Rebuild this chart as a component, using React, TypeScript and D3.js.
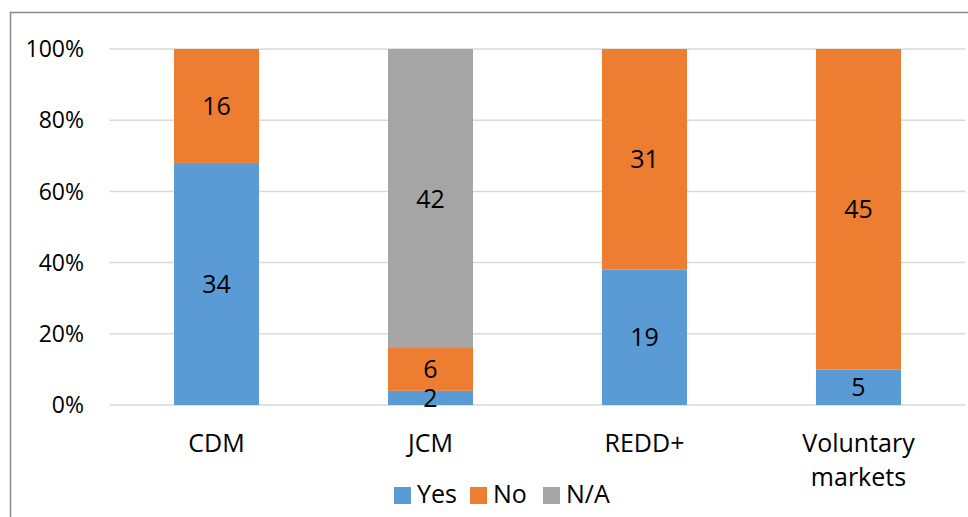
import React, { useEffect, useRef } from 'react';
import * as d3 from 'd3';

const categories = ['CDM', 'JCM', 'REDD+', 'Voluntary markets'];
const seriesNames = ['Yes', 'No', 'N/A'];
const yesValues = [34, 2, 19, 5];
const noValues = [16, 6, 31, 45];
const naValues = [0, 42, 0, 0];
const yTicks = [0, 0.2, 0.4, 0.6, 0.8, 1];
const colors = ['#5B9BD5', '#ED7D31', '#A5A5A5'];

const FONT = '"Open Sans", "Noto Sans", sans-serif';

export default function App() {
  const svgRef = useRef<SVGSVGElement>(null);

  useEffect(() => {
    const svg = d3.select(svgRef.current);
    svg.selectAll('*').remove();

    const width = 968;
    const height = 517;
    const margin = { top: 49, right: 2.5, bottom: 112, left: 109.5 };

    // chart border
    svg.append('rect')
      .attr('x', 10.5).attr('y', 12.5)
      .attr('width', 1000).attr('height', 600)
      .attr('fill', 'none').attr('stroke', '#8c8c8c').attr('stroke-width', 1.5);

    const rows = categories.map((c, i) => ({
      cat: c,
      Yes: yesValues[i],
      No: noValues[i],
      'N/A': naValues[i],
    }));

    const stack = d3.stack<any>().keys(seriesNames).offset(d3.stackOffsetExpand);
    const series = stack(rows);

    const x = d3.scaleBand()
      .domain(categories)
      .range([margin.left, width - margin.right])
      .paddingInner(129 / 214)
      .paddingOuter(129 / 214 / 2);

    const y = d3.scaleLinear().domain([0, 1]).range([height - margin.bottom, margin.top]);

    // gridlines
    svg.append('g')
      .selectAll('line')
      .data(yTicks)
      .enter()
      .append('line')
      .attr('x1', margin.left).attr('x2', width - margin.right)
      .attr('y1', (d) => y(d)).attr('y2', (d) => y(d))
      .attr('stroke', '#d9d9d9').attr('stroke-width', 1.5);

    // y tick labels
    svg.append('g')
      .selectAll('text')
      .data(yTicks)
      .enter()
      .append('text')
      .attr('x', 84)
      .attr('y', (d) => y(d))
      .attr('dy', '0.36em')
      .attr('text-anchor', 'end')
      .style('font-family', FONT)
      .style('font-size', '23px')
      .attr('fill', '#000')
      .text((d) => d3.format('.0%')(d));

    // bars
    const groups = svg.append('g')
      .selectAll('g')
      .data(series)
      .enter()
      .append('g')
      .attr('fill', (_, i) => colors[i]);

    groups.selectAll('rect')
      .data((d) => d)
      .enter()
      .append('rect')
      .attr('x', (d: any) => x(d.data.cat)!)
      .attr('width', x.bandwidth())
      .attr('y', (d) => y(d[1]))
      .attr('height', (d) => y(d[0]) - y(d[1]));

    // data labels
    series.forEach((s) => {
      svg.append('g')
        .selectAll('text')
        .data(s.filter((d: any) => d.data[s.key] > 0))
        .enter()
        .append('text')
        .attr('x', (d: any) => x(d.data.cat)! + x.bandwidth() / 2)
        .attr('y', (d) => (y(d[0]) + y(d[1])) / 2)
        .attr('dy', '0.36em')
        .attr('text-anchor', 'middle')
        .style('font-family', FONT)
        .style('font-size', '25px')
        .attr('fill', '#000')
        .text((d: any) => d.data[s.key]);
    });

    // category labels
    const catLabels = svg.append('g')
      .selectAll('text')
      .data(categories)
      .enter()
      .append('text')
      .attr('x', (d) => x(d)! + x.bandwidth() / 2)
      .attr('y', 452)
      .attr('text-anchor', 'middle')
      .style('font-family', FONT)
      .style('font-size', '25px')
      .attr('fill', '#000');

    catLabels.each(function (d) {
      const words = d === 'Voluntary markets' ? ['Voluntary', 'markets'] : [d];
      const t = d3.select(this);
      words.forEach((w, i) => {
        t.append('tspan')
          .attr('x', x(d)! + x.bandwidth() / 2)
          .attr('dy', i === 0 ? 0 : 34)
          .text(w);
      });
    });

    // legend
    const legendX = [394, 470, 543];
    const legend = svg.append('g')
      .selectAll('g')
      .data(seriesNames)
      .enter()
      .append('g')
      .attr('transform', (_, i) => `translate(${legendX[i]},487)`);

    legend.append('rect')
      .attr('width', 17).attr('height', 17)
      .attr('fill', (_, i) => colors[i]);

    legend.append('text')
      .attr('x', 23)
      .attr('y', 16)
      .style('font-family', FONT)
      .style('font-size', '25px')
      .attr('fill', '#000')
      .text((d) => d);
  }, []);

  return (
    <svg
      ref={svgRef}
      width={968}
      height={517}
      style={{ position: 'absolute', left: 0, top: 0, background: '#fff' }}
    />
  );
}
